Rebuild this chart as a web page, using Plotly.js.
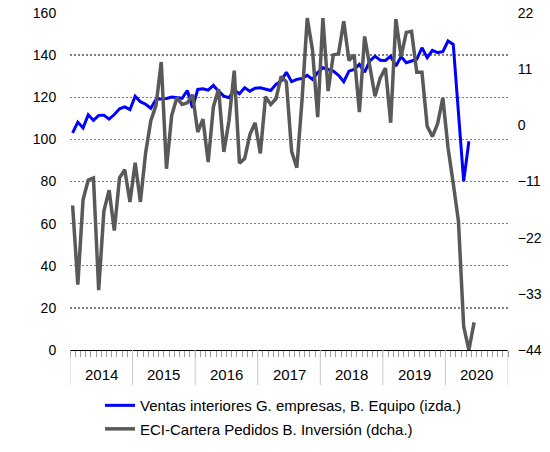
<!DOCTYPE html>
<html>
<head>
<meta charset="utf-8">
<script src="https://cdn.plot.ly/plotly-3.0.1.min.js"></script>
<style>html,body{margin:0;padding:0;background:#fff;}#chart{width:550px;height:452px;}</style>
</head>
<body>
<div id="chart"></div>
<script>
// Monthly data, Jan 2014 onwards
var years = ['2014','2015','2016','2017','2018','2019','2020'];
var ventas = [103.1,108.2,105.4,111.7,109.0,111.4,111.5,109.6,111.8,114.5,115.4,114.1,
  120.5,117.9,116.7,114.8,119.0,119.2,119.4,120.1,119.9,119.5,123.2,115.0,
  123.7,124.0,123.4,125.6,122.9,120.5,119.8,123.4,121.7,124.5,122.9,124.3,
  124.5,123.7,123.2,126.1,127.7,131.9,127.4,128.5,128.9,130.4,128.5,131.7,
  134.0,133.2,132.4,130.4,127.4,132.4,133.2,135.6,131.9,137.2,139.5,137.6,
  137.5,139.5,134.8,139.3,136.4,137.2,138.0,143.5,138.8,142.3,141.2,141.6,
  146.7,145.1,113.0,80.1,99.1];
var eci = [-15.7,-31.2,-14.6,-10.7,-10.3,-32.3,-16.8,-12.7,-20.6,-10.3,-8.7,-15.0,
  -7.3,-15.0,-5.4,0.9,3.9,12.4,-8.5,1.9,5.4,4.1,4.4,6.0,
  -1.3,1.2,-7.2,3.6,7.1,-5.2,1.0,10.7,-7.4,-6.5,-1.8,0.5,
  -5.5,5.6,4.1,5.2,9.6,8.5,-5.1,-8.3,5.0,21.0,14.8,1.6,
  21.0,6.7,13.8,14.0,20.4,12.7,13.8,2.6,17.4,11.6,5.7,9.3,
  11.2,0.5,20.8,13.5,18.2,18.4,10.4,10.4,-0.2,-2.2,0.3,5.4,
  -4.4,-11.4,-18.8,-39.4,-44.0,-38.6];
var leftTicks = [0,20,40,60,80,100,120,140,160];
var rightTicks = [-44,-33,-22,-11,0,11,22];
var nameVentas = 'Ventas interiores G. empresas, B. Equipo (izda.)';
var nameEci = 'ECI-Cartera Pedidos B. Inversión (dcha.)';

var xV = ventas.map(function(_, i){ return i; });
var xE = eci.map(function(_, i){ return i; });
var nMonths = years.length * 12;
var monthEdges = [];
for (var m = 0; m <= nMonths; m++) monthEdges.push(m - 0.5);

var FAM = 'Liberation Sans, Arial, sans-serif';
var shapes = [];
var annotations = [];
years.forEach(function(y, k){
  annotations.push({x: k*12 + 5.5, xref:'x', y: -0.073, yref:'paper', yanchor:'middle',
    text: y, showarrow:false, font:{family:FAM, size:15, color:'#000'}});
});
for (var k = 0; k <= years.length; k++) {
  shapes.push({type:'line', xref:'x', yref:'paper', x0:k*12-0.5, x1:k*12-0.5, y0:0, y1:-0.104,
    line:{color:'#c8c8c8', width:1}});
}

var traces = [
  {x:xV, y:ventas, type:'scatter', mode:'lines', name:nameVentas, yaxis:'y', legendgroup:'a',
   line:{color:'#0000ff', width:3}},
  {x:xE, y:eci, type:'scatter', mode:'lines', name:nameEci, yaxis:'y2', legendgroup:'b',
   line:{color:'#595959', width:3.5}}
];

var tickFont = {family:FAM, size:14, color:'#000'};
var legFont = {family:FAM, size:15, color:'#000'};
var layout = {
  width:550, height:452,
  margin:{l:70, r:42, t:13, b:102, autoexpand:false},
  paper_bgcolor:'#fff', plot_bgcolor:'#fff',
  font: tickFont,
  showlegend:true,
  legend:{x:0.0685, xanchor:'left', y:-0.116, yanchor:'top',
    orientation:'v', traceorder:'grouped', tracegroupgap:1, font:legFont, bgcolor:'rgba(0,0,0,0)'},
  xaxis:{range:[-0.5, nMonths-0.5], tickmode:'array', tickvals:monthEdges,
    ticktext:monthEdges.map(function(){return '';}), ticks:'outside', ticklen:6,
    tickcolor:'#999', tickwidth:1, showgrid:false, zeroline:false,
    showline:true, linecolor:'#000', linewidth:1.2},
  yaxis:{range:[0,160], tickmode:'array', tickvals:leftTicks, ticks:'outside', ticklen:10,
    tickcolor:'rgba(0,0,0,0)', showgrid:true, gridcolor:'#808080', gridwidth:1.3,
    griddash:'2px,2px', zeroline:false, showline:false, tickfont:tickFont},
  yaxis2:{range:[-44,22], overlaying:'y', side:'right', tickmode:'array', tickvals:rightTicks,
    ticks:'outside', ticklen:6, tickcolor:'rgba(0,0,0,0)', showgrid:false, zeroline:false,
    showline:false, tickfont:tickFont},
  shapes:shapes,
  annotations:annotations
};
Plotly.newPlot('chart', traces, layout, {staticPlot:true, displayModeBar:false});
</script>
</body>
</html>
